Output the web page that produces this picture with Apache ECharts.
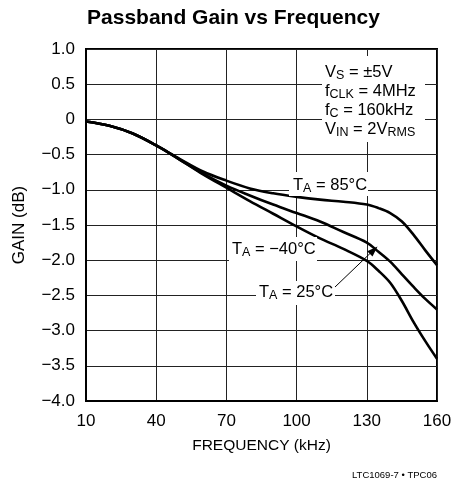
<!DOCTYPE html>
<html>
<head>
<meta charset="utf-8">
<script src="https://cdn.jsdelivr.net/npm/echarts@6/dist/echarts.min.js"></script>
<style>html,body{margin:0;padding:0;background:#fff}#c{width:467px;height:485px}</style>
</head>
<body>
<div id="c"></div>
<script>
const TITLE = 'Passband Gain vs Frequency';
const X_NAME = 'FREQUENCY (kHz)';
const Y_NAME = 'GAIN (dB)';
const FOOTNOTE = 'LTC1069-7 \u2022 TPC06';
const freqKHz = [10, 20, 30, 40, 50, 60, 70, 80, 90, 100, 110, 120, 130, 135, 140, 145, 150, 155, 160];
const gain85 = [-0.03, -0.09, -0.20, -0.37, -0.56, -0.74, -0.87, -0.98, -1.05, -1.10, -1.14, -1.17, -1.21, -1.26, -1.33, -1.45, -1.64, -1.86, -2.07];
const gain25 = [-0.03, -0.09, -0.20, -0.37, -0.57, -0.77, -0.94, -1.08, -1.21, -1.33, -1.45, -1.60, -1.75, -1.88, -2.02, -2.20, -2.38, -2.55, -2.70];
const gainM40 = [-0.03, -0.09, -0.20, -0.37, -0.57, -0.78, -0.97, -1.16, -1.34, -1.52, -1.69, -1.84, -2.01, -2.15, -2.32, -2.58, -2.88, -3.15, -3.40];
const xTicks = [10, 40, 70, 100, 130, 160];
const yTicks = [1.0, 0.5, 0, -0.5, -1.0, -1.5, -2.0, -2.5, -3.0, -3.5, -4.0];

const FONT = "'Liberation Sans', Arial, sans-serif";
const X0 = xTicks[0];
const xStep = xTicks[1] - xTicks[0];
const yStep = yTicks[0] - yTicks[1];

function pts(g) { return freqKHz.map((f, i) => [f - X0, g[i]]); }
function fmtY(v) {
  if (Math.abs(v) < 1e-9) return '0';
  return v.toFixed(1).replace('-', '\u2212');
}
const rich = {
  m: { fontSize: 16.5, fontFamily: FONT, color: '#000', lineHeight: 20 },
  s: { fontSize: 12.5, fontFamily: FONT, color: '#000', lineHeight: 20, padding: [7, 0, 0, 0] }
};
function txt(x, y, text, align) {
  return { type: 'text', x: x, y: y, z: 20, style: { text: text, rich: rich, textAlign: align || 'left', textVerticalAlign: 'middle', fill: '#000' } };
}
function wrect(x, y, w, h) {
  return { type: 'rect', z: 15, shape: { x: x, y: y, width: w, height: h }, style: { fill: '#fff' } };
}
const line = (g, name) => ({
  type: 'line', name: name, data: pts(g), showSymbol: false, smooth: 0.35,
  lineStyle: { color: '#000', width: 2.6 }, z: 5
});

const chart = echarts.init(document.getElementById('c'), null, { renderer: 'canvas' });
chart.setOption({
  animation: false,
  backgroundColor: '#fff',
  title: { text: TITLE, left: 'center', top: 3, textStyle: { fontFamily: FONT, fontWeight: 'bold', fontSize: 21, color: '#000' } },
  grid: { left: 86, right: 30, top: 49, bottom: 84, show: true, borderColor: '#000', borderWidth: 2, backgroundColor: 'transparent' },
  xAxis: {
    type: 'value', min: 0, max: xTicks[xTicks.length - 1] - X0, interval: xStep,
    name: X_NAME, nameLocation: 'middle', nameGap: 37,
    nameTextStyle: { fontFamily: FONT, fontSize: 15.5, color: '#000' },
    axisLine: { show: true, onZero: false, lineStyle: { color: '#000', width: 2 } },
    axisTick: { show: false },
    axisLabel: { formatter: v => String(v + X0), fontFamily: FONT, fontSize: 17, color: '#000', margin: 12 },
    splitLine: { show: true, lineStyle: { color: '#222', width: 1 } }
  },
  yAxis: {
    type: 'value', min: yTicks[yTicks.length - 1], max: yTicks[0], interval: yStep,
    name: Y_NAME, nameLocation: 'middle', nameGap: 58, nameRotate: 90,
    nameTextStyle: { fontFamily: FONT, fontSize: 17, color: '#000' },
    axisLine: { show: true, onZero: false, lineStyle: { color: '#000', width: 2 } },
    axisTick: { show: false },
    axisLabel: { formatter: fmtY, fontFamily: FONT, fontSize: 17, color: '#000', margin: 11 },
    splitLine: { show: true, lineStyle: { color: '#222', width: 1 } }
  },
  series: [line(gain85, '85'), line(gain25, '25'), line(gainM40, '-40')],
  graphic: [
    wrect(322, 56, 103, 86),
    txt(325, 72, '{m|V}{s|S}{m| = \u00b15V}'),
    txt(325, 91, '{m|f}{s|CLK}{m| = 4MHz}'),
    txt(325, 110, '{m|f}{s|C}{m| = 160kHz}'),
    txt(325, 129, '{m|V}{s|IN}{m| = 2V}{s|RMS}'),
    wrect(289, 172, 79, 24),
    txt(293, 185, '{m|T}{s|A}{m| = 85\u00b0C}'),
    wrect(229, 237, 88, 24),
    txt(232, 249, '{m|T}{s|A}{m| = \u221240\u00b0C}'),
    wrect(256, 281, 79, 24),
    txt(259, 292, '{m|T}{s|A}{m| = 25\u00b0C}'),
    { type: 'line', z: 20, shape: { x1: 335, y1: 287, x2: 370, y2: 253.5 }, style: { stroke: '#000', lineWidth: 1 } },
    { type: 'polygon', z: 20, shape: { points: [[377.5, 246.5], [372.5, 256.5], [367.2, 251.2]] }, style: { fill: '#000' } },
    { type: 'text', x: 437, y: 475, z: 20, style: { text: FOOTNOTE, font: '9.5px ' + FONT, fill: '#000', textAlign: 'right', textVerticalAlign: 'middle' } }
  ]
});
</script>
</body>
</html>
